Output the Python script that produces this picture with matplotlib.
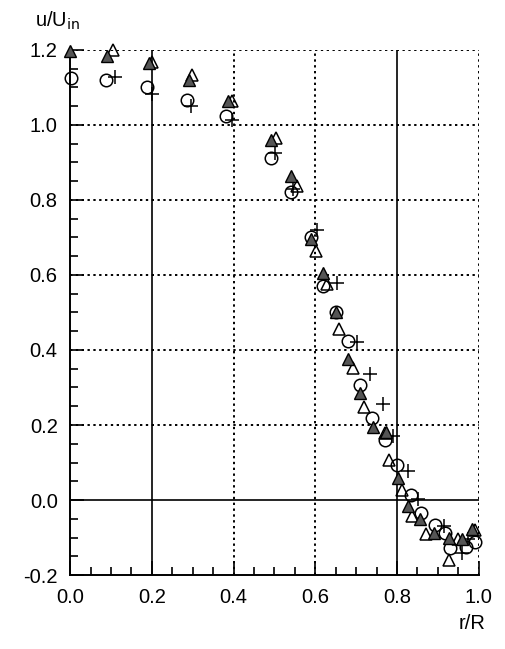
import matplotlib
matplotlib.use("Agg")
import matplotlib.pyplot as plt
from matplotlib.ticker import MultipleLocator

plt.rcParams['font.family'] = ['Liberation Sans', 'DejaVu Sans']

# open circles
circ_x = [0.003, 0.087, 0.188, 0.286, 0.382, 0.491, 0.541, 0.589, 0.619, 0.650, 0.679,
          0.710, 0.738, 0.770, 0.801, 0.833, 0.859, 0.893, 0.918, 0.930, 0.968, 0.992]
circ_y = [1.124, 1.120, 1.102, 1.067, 1.023, 0.912, 0.820, 0.700, 0.571, 0.500, 0.425,
          0.307, 0.218, 0.159, 0.094, 0.013, -0.035, -0.067, -0.088, -0.128, -0.126, -0.112]

# plus signs
plus_x = [0.109, 0.200, 0.296, 0.395, 0.502, 0.546, 0.603, 0.652, 0.703, 0.733, 0.765,
          0.791, 0.826, 0.851, 0.915, 0.960, 0.974]
plus_y = [1.127, 1.083, 1.051, 1.012, 0.925, 0.829, 0.719, 0.579, 0.420, 0.335, 0.256,
          0.170, 0.077, 0.003, -0.069, -0.140, -0.104]

# open triangles
otri_x = [0.105, 0.201, 0.299, 0.395, 0.503, 0.554, 0.602, 0.629, 0.659, 0.692, 0.720,
          0.770, 0.781, 0.811, 0.836, 0.870, 0.927, 0.950, 0.990]
otri_y = [1.200, 1.169, 1.132, 1.065, 0.964, 0.838, 0.665, 0.576, 0.456, 0.352, 0.247,
          0.178, 0.106, 0.028, -0.043, -0.090, -0.159, -0.105, -0.081]

# filled triangles
ftri_x = [0.000, 0.091, 0.193, 0.290, 0.387, 0.491, 0.540, 0.590, 0.619, 0.650, 0.680,
          0.710, 0.741, 0.774, 0.802, 0.828, 0.857, 0.890, 0.926, 0.958, 0.983]
ftri_y = [1.198, 1.183, 1.165, 1.121, 1.065, 0.961, 0.865, 0.697, 0.605, 0.500, 0.376,
          0.285, 0.196, 0.181, 0.058, -0.016, -0.051, -0.089, -0.101, -0.104, -0.076]

xticks = [0.0, 0.2, 0.4, 0.6, 0.8, 1.0]
yticks = [-0.2, 0.0, 0.2, 0.4, 0.6, 0.8, 1.0, 1.2]

fig = plt.figure(figsize=(5.05, 6.49), dpi=100)
ax = fig.add_axes([0.139, 0.114, 0.809, 0.809])

# grid: solid at 0.2, 0.8 and y=0, dotted elsewhere
for x in [0.4, 0.6, 1.0]:
    ax.axvline(x, color='black', lw=1.4, ls=(0, (1.2, 1.8)), zorder=1)
for y in [0.2, 0.4, 0.6, 0.8, 1.0, 1.2]:
    ax.axhline(y, color='black', lw=1.4, ls=(0, (1.2, 1.8)), zorder=1)
for x in [0.2, 0.8]:
    ax.axvline(x, color='black', lw=1.2, zorder=1)
ax.axhline(0.0, color='black', lw=1.2, zorder=1)

ax.plot(circ_x, circ_y, 'o', ms=9, mfc='none', mec='black', mew=1.1, zorder=3, clip_on=False)
ax.plot(plus_x, plus_y, '+', ms=10, mec='black', mew=1.1, zorder=3, clip_on=False)
ax.plot(otri_x, otri_y, '^', ms=8.5, mfc='none', mec='black', mew=1.1, zorder=3, clip_on=False)
ax.plot(ftri_x, ftri_y, '^', ms=8, mfc='#555555', mec='black', mew=1.0, zorder=4, clip_on=False)

ax.set_xlim(0.0, 1.0)
ax.set_ylim(-0.2, 1.2)
ax.set_xticks(xticks)
ax.set_yticks(yticks)
ax.set_xticklabels([f'{v:.1f}' for v in xticks])
ax.set_yticklabels([f'{v:.1f}' for v in yticks])
ax.xaxis.set_minor_locator(MultipleLocator(0.05))
ax.yaxis.set_minor_locator(MultipleLocator(0.05))
ax.tick_params(which='major', direction='in', length=10, width=1.2, labelsize=14.5, pad=9)
ax.tick_params(which='minor', direction='in', length=6, width=1.2)

ax.spines['top'].set_visible(False)
ax.spines['right'].set_visible(False)
ax.spines['left'].set_linewidth(1.4)
ax.spines['bottom'].set_linewidth(1.4)

fig.text(0.07, 0.985, r'u/U$_{\mathrm{in}}$', fontsize=14.5, ha='left', va='top')
fig.text(0.935, 0.04, 'r/R', fontsize=14.5, ha='center', va='center')

fig.savefig('out.png', dpi=100)
